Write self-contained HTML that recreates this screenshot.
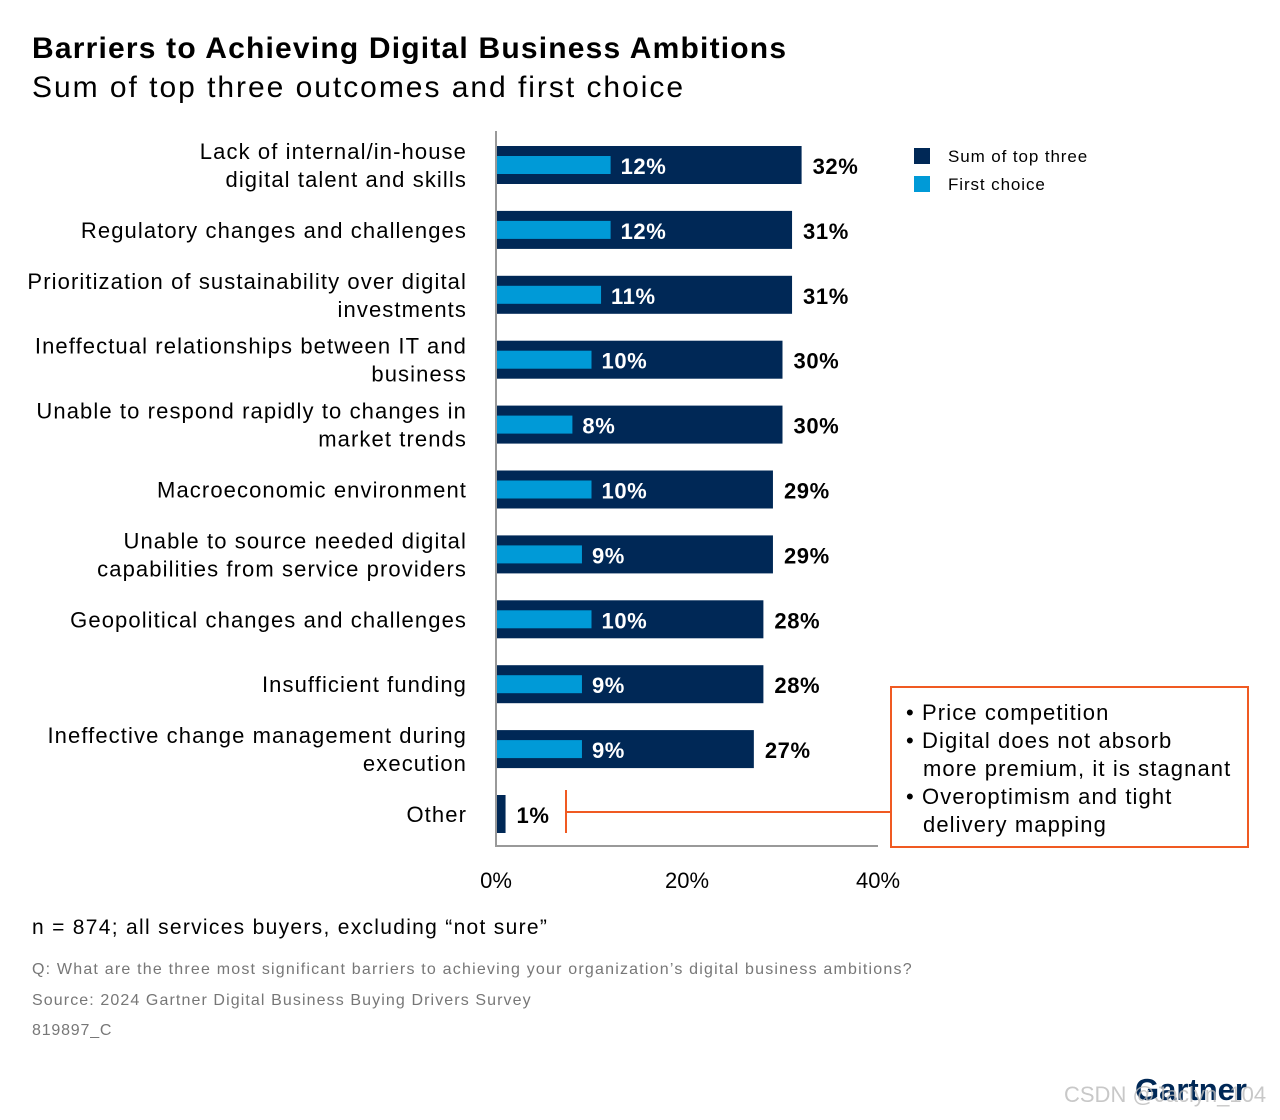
<!DOCTYPE html>
<html><head><meta charset="utf-8"><style>
body{margin:0;background:#fff;width:1280px;height:1115px;overflow:hidden;font-family:"Liberation Sans",sans-serif}
</style></head><body>
<svg width="1280" height="1115" viewBox="0 0 1280 1115" xmlns="http://www.w3.org/2000/svg">
<text x="32" y="58" font-size="30" font-weight="bold" fill="#000" textLength="754" lengthAdjust="spacing">Barriers to Achieving Digital Business Ambitions</text>
<text x="32" y="97" font-size="30" fill="#000" textLength="651" lengthAdjust="spacing">Sum of top three outcomes and first choice</text>
<g id="bars"></g>
<line x1="496" y1="131" x2="496" y2="847" stroke="#999" stroke-width="2"/>
<line x1="496" y1="846" x2="878" y2="846" stroke="#999" stroke-width="2"/>
<g id="ticks"></g>
<rect x="914" y="148" width="16" height="16" fill="#002856"/>
<text x="948" y="162" font-size="17" fill="#000" letter-spacing="0.9">Sum of top three</text>
<rect x="914" y="176" width="16" height="16" fill="#009ad7"/>
<text x="948" y="190" font-size="17" fill="#000" letter-spacing="0.9">First choice</text>
<g>
<line x1="566" y1="790" x2="566" y2="833" stroke="#f05a22" stroke-width="2"/>
<line x1="566" y1="812" x2="891" y2="812" stroke="#f05a22" stroke-width="2"/>
<rect x="891" y="687" width="357" height="160" fill="#fff" stroke="#f05a22" stroke-width="2"/>
<g font-size="22" fill="#000" letter-spacing="1.1">
<text x="906" y="720">• Price competition</text>
<text x="906" y="748">• Digital does not absorb</text>
<text x="923" y="776">more premium, it is stagnant</text>
<text x="906" y="804">• Overoptimism and tight</text>
<text x="923" y="832">delivery mapping</text>
</g></g>
<text x="32" y="934" font-size="21" fill="#000" letter-spacing="1.3">n = 874; all services buyers, excluding “not sure”</text>
<text x="32" y="974" font-size="16" fill="#777" letter-spacing="1.2">Q: What are the three most significant barriers to achieving your organization’s digital business ambitions?</text>
<text x="32" y="1005" font-size="16" fill="#777" letter-spacing="1.1">Source: 2024 Gartner Digital Business Buying Drivers Survey</text>
<text x="32" y="1035" font-size="16" fill="#777" letter-spacing="0.8">819897_C</text>
<text x="1135" y="1100" font-size="31" font-weight="bold" fill="#002856">Gartner</text>
<text x="1064" y="1102" font-size="22" fill="#bbb" opacity="0.8">CSDN @Jaclyn_104</text>
</svg>
<script>
const categories=[["Lack of internal/in-house","digital talent and skills"],["Regulatory changes and challenges"],["Prioritization of sustainability over digital","investments"],["Ineffectual relationships between IT and","business"],["Unable to respond rapidly to changes in","market trends"],["Macroeconomic environment"],["Unable to source needed digital","capabilities from service providers"],["Geopolitical changes and challenges"],["Insufficient funding"],["Ineffective change management during","execution"],["Other"]];
const topThree=[32,31,31,30,30,29,29,28,28,27,1];
const firstChoice=[12,12,11,10,8,10,9,10,9,9,0];
const xTicks=[0,20,40];
const NS="http://www.w3.org/2000/svg";
const x=v=>496+v*9.55;
const yc=i=>165+i*64.9;
function mk(t,a,p){const e=document.createElementNS(NS,t);for(const k in a)e.setAttribute(k,a[k]);p.appendChild(e);return e;}
const g=document.getElementById('bars');
categories.forEach((c,i)=>{
 const y=yc(i);
 const r=mk('rect',{x:497,y:y-19,width:x(topThree[i])-497,height:38,fill:'#002856'},g);
 
 
 const t=mk('text',{x:x(topThree[i])+11,y:y+9,'font-size':22,'font-weight':'bold',fill:'#000','letter-spacing':0.6},g);
 t.textContent=topThree[i]+'%';
 
 
 if(firstChoice[i]>0){
  const b=mk('rect',{x:497,y:y-9,width:x(firstChoice[i])-497,height:18,fill:'#009ad7'},g);
  
  
  const v=mk('text',{x:x(firstChoice[i])+10,y:y+9,'font-size':22,'font-weight':'bold',fill:'#fff','letter-spacing':0.6},g);
  v.textContent=firstChoice[i]+'%';
  
  
 }
 const n=c.length;
 c.forEach((line,j)=>{
  const l=mk('text',{x:467,y:y+8+(j-(n-1)/2)*28,'font-size':22,'text-anchor':'end',fill:'#000','letter-spacing':1.1},g);
  l.textContent=line;
  
  
 });
});
const tg=document.getElementById('ticks');
xTicks.forEach(v=>{
 const t=mk('text',{x:x(v),y:888,'font-size':22,'text-anchor':'middle',fill:'#000'},tg);
 t.textContent=v+'%';
 
 
});
</script>
</body></html>
